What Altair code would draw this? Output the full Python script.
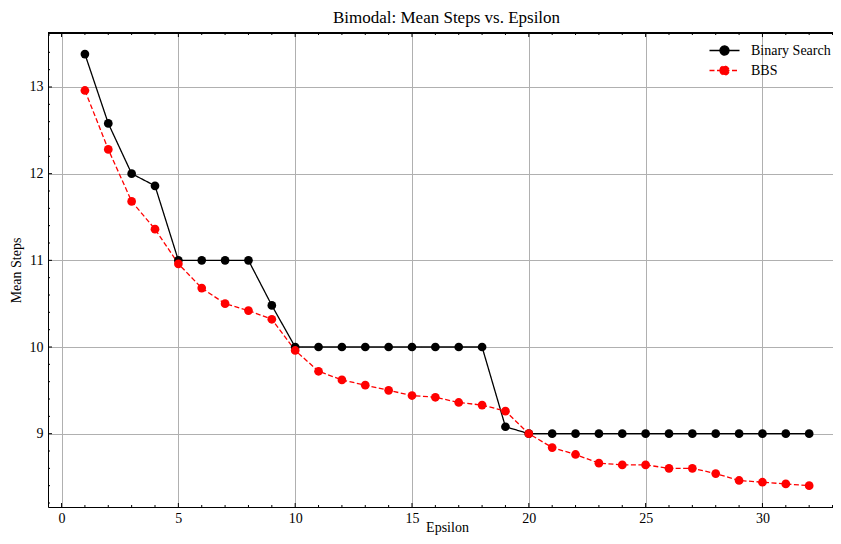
import altair as alt
import pandas as pd

# ---- data ----
epsilon = list(range(1, 33))
binary_search = [13.38, 12.58, 12.00, 11.86, 11.00, 11.00, 11.00, 11.00, 10.48,
                 10.00, 10.00, 10.00, 10.00, 10.00, 10.00, 10.00, 10.00, 10.00,
                 9.08, 9.00, 9.00, 9.00, 9.00, 9.00, 9.00, 9.00, 9.00, 9.00,
                 9.00, 9.00, 9.00, 9.00]
bbs = [12.96, 12.28, 11.68, 11.36, 10.96, 10.68, 10.50, 10.42, 10.32,
       9.96, 9.72, 9.62, 9.56, 9.50, 9.44, 9.42, 9.36, 9.33,
       9.26, 9.00, 8.84, 8.76, 8.66, 8.64, 8.64, 8.60, 8.60, 8.54,
       8.46, 8.44, 8.42, 8.40]
series_names = ["Binary Search", "BBS"]

x_major = [0, 5, 10, 15, 20, 25, 30]
x_minor = [v for v in range(0, 34) if v % 5 != 0]
y_major = [9, 10, 11, 12, 13]
y_minor = [round(8.2 + 0.2 * i, 1) for i in range(28)]
y_minor = [v for v in y_minor if abs(v - round(v)) > 1e-6]

W, H = 785, 474
FONT = "Liberation Serif"

df = pd.concat([
    pd.DataFrame({"Epsilon": epsilon, "Mean Steps": binary_search, "series": series_names[0]}),
    pd.DataFrame({"Epsilon": epsilon, "Mean Steps": bbs, "series": series_names[1]}),
])

xscale = alt.Scale(domain=[-0.58, 33.02], nice=False, zero=False)
yscale = alt.Scale(domain=[8.154, 13.623], nice=False, zero=False)

xaxis = alt.Axis(values=x_major, ticks=False, grid=True, gridColor="#b0b0b0", gridWidth=1,
                 domainColor="black", domainWidth=1, labelFont=FONT, labelFontSize=14,
                 labelColor="black", labelPadding=4, titleFont=FONT, titleFontSize=14,
                 titleFontWeight="normal", titleColor="black", titleX=399, titleY=27,
                 titleBaseline="bottom", title="Epsilon")
yaxis = alt.Axis(values=y_major, ticks=False, grid=True, gridColor="#b0b0b0", gridWidth=1,
                 domainColor="black", domainWidth=1, labelFont=FONT, labelFontSize=14,
                 labelColor="black", labelPadding=5, titleFont=FONT, titleFontSize=14,
                 titleFontWeight="normal", titleColor="black", titlePadding=6,
                 title="Mean Steps")

color = alt.Color("series:N", scale=alt.Scale(domain=series_names, range=["black", "#ff0000"]),
                  legend=alt.Legend(title=None, orient="none", legendX=668, legendY=9,
                                    symbolType="M-2,0L2,0M-0.6,0A0.6,0.6,0,1,1,0.6,0A0.6,0.6,0,1,1,-0.6,0Z",
                                    symbolSize=225, symbolStrokeWidth=1.3,
                                    labelFont=FONT, labelFontSize=14, labelColor="black",
                                    labelOffset=18, rowPadding=4, padding=0))
dash = alt.StrokeDash("series:N", scale=alt.Scale(domain=series_names, range=[[1, 0], [5, 2.5]]),
                      legend=None)

lines = alt.Chart(df).mark_line(strokeWidth=1.3).encode(
    x=alt.X("Epsilon:Q", scale=xscale, axis=xaxis),
    y=alt.Y("Mean Steps:Q", scale=yscale, axis=yaxis),
    color=color, strokeDash=dash,
)
points = alt.Chart(df).mark_point(filled=True, size=76, opacity=1, shape="circle").encode(
    x=alt.X("Epsilon:Q", scale=xscale, axis=xaxis),
    y=alt.Y("Mean Steps:Q", scale=yscale, axis=yaxis),
    color=color,
)

xmaj = pd.DataFrame({"Epsilon": x_major})
xmin = pd.DataFrame({"Epsilon": x_minor})
ymaj = pd.DataFrame({"Mean Steps": y_major})
ymin = pd.DataFrame({"Mean Steps": y_minor})

def xticks(d, length):
    bottom = alt.Chart(d).mark_rule(color="black", strokeWidth=1).encode(
        x=alt.X("Epsilon:Q", scale=xscale, axis=xaxis),
        y=alt.value(H), y2=alt.value(H - length))
    top = alt.Chart(d).mark_rule(color="black", strokeWidth=1).encode(
        x=alt.X("Epsilon:Q", scale=xscale, axis=xaxis),
        y=alt.value(0), y2=alt.value(length))
    return bottom + top

def yticks(d, length):
    return alt.Chart(d).mark_rule(color="black", strokeWidth=1).encode(
        y=alt.Y("Mean Steps:Q", scale=yscale, axis=yaxis),
        x=alt.value(0), x2=alt.value(length))

top_border = alt.Chart(xmaj).mark_rule(color="black", strokeWidth=1).encode(
    x=alt.value(0), x2=alt.value(W), y=alt.value(0))

chart = alt.layer(
    lines, points,
    xticks(xmaj, 4), xticks(xmin, 2),
    yticks(ymaj, 4), yticks(ymin, 2),
    top_border,
).properties(
    width=W, height=H,
    title=alt.Title("Bimodal: Mean Steps vs. Epsilon", font=FONT, fontSize=17,
                    fontWeight="normal", color="black", offset=6, dx=6),
    autosize=alt.AutoSizeParams(type="none"),
    padding={"left": 40, "top": 25, "right": 0, "bottom": 28},
).configure_view(stroke=None).configure(background="white")

chart.save("out.html", embed_options={"renderer": "svg", "actions": False})
